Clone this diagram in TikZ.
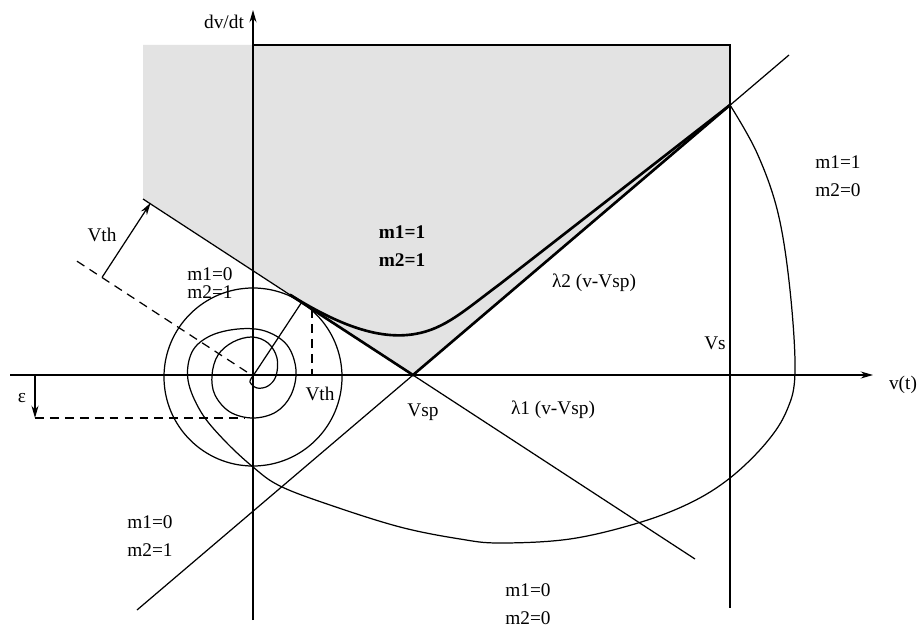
\documentclass[tikz,border=0pt]{standalone}
\usepackage{fontspec}
\setmainfont{Liberation Serif}
\usetikzlibrary{arrows.meta}
\begin{document}
\begin{tikzpicture}[x=0.02cm,y=-0.02cm,
  ln/.style={line width=0.7pt},
  thk/.style={line width=1.5pt},
  dsh/.style={line width=0.7pt, dash pattern=on 5pt off 3.5pt},
  lbl/.style={font=\fontsize{11}{13}\selectfont, inner sep=0pt, align=center},
  tip/.style={-{Stealth[length=7pt,width=4pt]}}
]
\useasboundingbox (0,0) rectangle (920,628);
% shaded region
\fill[black!11] (143,45) -- (730,45) -- (730,105) -- (413,375) -- (143,199) -- cycle;
% named points
\coordinate (O) at (253,376);
\coordinate (Vsp) at (413,375);
\coordinate (S) at (730,105);
\coordinate (T) at (301.6,302.4);
\coordinate (xl) at (10,375);
\coordinate (xr) at (873,375);
\coordinate (yb) at (253,620);
\coordinate (yt) at (253,10);
% axes
\draw[ln,tip] (xl) -- (xr);
\draw[ln,tip] (yb) -- (yt);
% box lines
\draw[ln] (253,45) -- (730,45) -- (730,608);
% lambda lines
\draw[ln] (143,199) -- (695,559);
\draw[ln] (137,610) -- (789,55);
\draw[thk] (290,294.8) -- (Vsp) -- (S);
% thick separatrix curve
\draw[thk] (290,294.8) .. controls (340,326) and (380,340) .. (415,334)
  .. controls (445,329) and (465,310) .. (500,284) -- (S);
% Vth circle
\draw[ln] (253,377) circle[radius=89];
% radius to tangent point
\draw[ln] (O) -- (T);
% dashed vertical at tangency
\draw[dsh] (312,309) -- (312,375);
% dashed parallel line through origin
\draw[dsh] (77,261.2) -- (O);
% Vth arrow
\coordinate (P) at (102,277.5);
\coordinate (Q) at (150.6,202.9);
\draw[ln,tip] (P) -- (Q);
% epsilon
\coordinate (E1) at (35,376);
\coordinate (E2) at (35,418);
\draw[ln,tip] (E1) -- (E2);
\draw[dsh] (E2) -- (245,418);
% trajectory
\draw[ln] plot[smooth, tension=0.6] coordinates {
 (730,105) (757,153) (778,213) (790,290) (795,372) (787,410) (766,443) (730,478)
 (690,503) (638,523) (570,539) (500,543) (460,539) (400,527) (330,505) (280,486)
 (253,467) (224,440) (201,412) (188,380) (192,352) (210,336) (238,329) (265,331)
 (287,345) (296,370) (291,395) (276,412) (253,418) (230,412) (215,395) (212,375)
 (218,355) (233,342) (252,337) (268,343) (277,358) (276,376) (268,386) (257,388)
 (250,382) (253,376)};
% labels
\node[lbl] (ldvdt) at (224,22) {dv/dt};
\node[lbl] (lvt) at (903,385) {v(t)};
\node[lbl] (lr) at (838,176) {m1=1\\[3pt]m2=0};
\node[lbl, font=\fontsize{11}{13}\selectfont\bfseries] (lc) at (402,246) {m1=1\\[3pt]m2=1};
\node[lbl, font=\fontsize{11}{10}\selectfont] (lsp) at (210,283) {m1=0\\m2=1};
\node[lbl] (ll2) at (594,283) {λ2 (v-Vsp)};
\node[lbl] (ll1) at (553,410) {λ1 (v-Vsp)};
\node[lbl] (lvth1) at (102,235) {Vth};
\node[lbl] (lvth2) at (320,394) {Vth};
\node[lbl] (leps) at (22,398) {ε};
\node[lbl] (lvsp) at (423,412) {Vsp};
\node[lbl] (lvs) at (715,343) {Vs};
\node[lbl] (lbl1) at (150,536) {m1=0\\[3pt]m2=1};
\node[lbl] (lbl2) at (528,604) {m1=0\\[3pt]m2=0};
\end{tikzpicture}
\end{document}
